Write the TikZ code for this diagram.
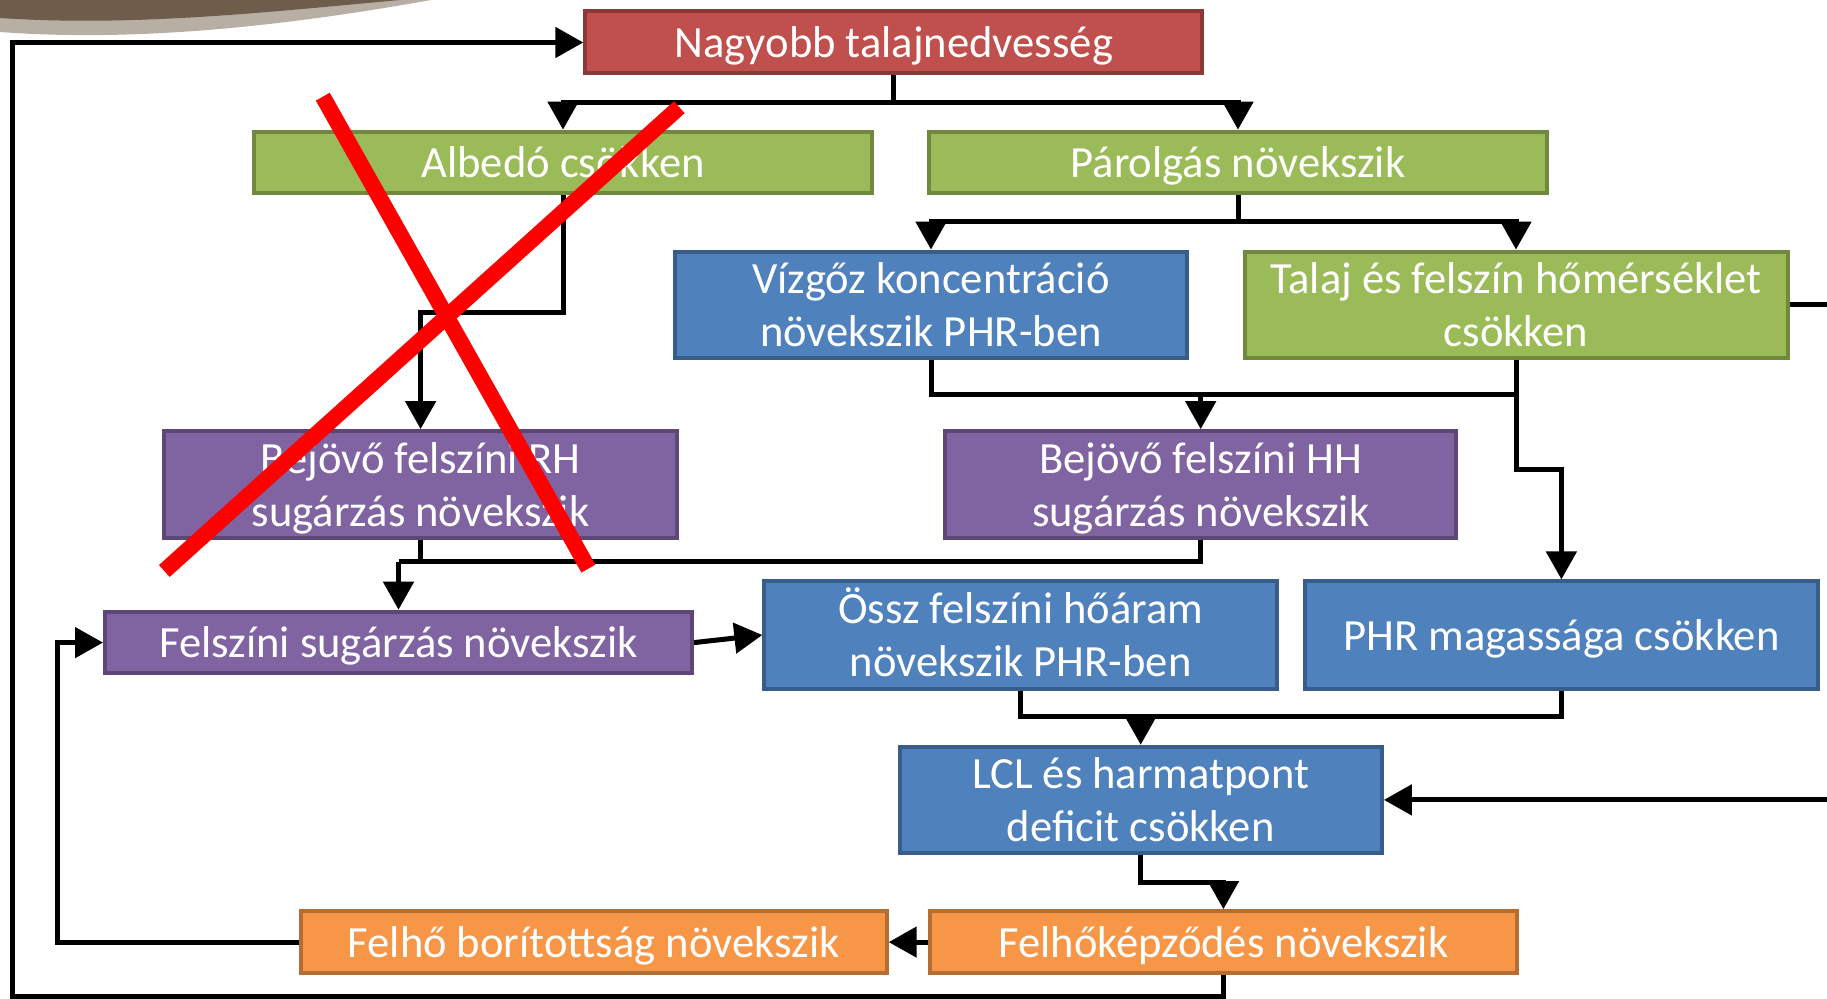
\documentclass[tikz,border=0pt]{standalone}
\usepackage{fontspec}
\setmainfont{Carlito}
\usetikzlibrary{arrows.meta}
\definecolor{cred}{HTML}{C0504D}
\definecolor{credd}{HTML}{8C3836}
\definecolor{cgreen}{HTML}{9BBB59}
\definecolor{cgreend}{HTML}{71893F}
\definecolor{cblue}{HTML}{4F81BD}
\definecolor{cblued}{HTML}{385D8A}
\definecolor{cpurp}{HTML}{8064A2}
\definecolor{cpurpd}{HTML}{5C4776}
\definecolor{corange}{HTML}{F79646}
\definecolor{coranged}{HTML}{B66D31}
\definecolor{swdark}{HTML}{6E5D4B}
\definecolor{swlight}{HTML}{B8AFA4}
\newcommand{\pptstrut}{\rule[-0.25em]{0pt}{1.18em}}
\begin{document}
\begin{tikzpicture}[x=0.5pt,y=-0.5pt,
  box/.style={draw, line width=2pt, text=white, align=center, inner sep=0pt,
    font=\fontsize{22.3}{26.8}\selectfont,
    execute at begin node=\pptstrut, execute at end node=\pptstrut},
  redbox/.style={box, fill=cred, draw=credd},
  greenbox/.style={box, fill=cgreen, draw=cgreend},
  bluebox/.style={box, fill=cblue, draw=cblued},
  purpbox/.style={box, fill=cpurp, draw=cpurpd},
  orbox/.style={box, fill=corange, draw=coranged},
  conn/.style={line width=2.5pt, black},
  arr/.style={conn, -{Triangle[length=14pt,width=15pt]}},
  cross/.style={line width=8pt, red}]
\useasboundingbox (0,0) rectangle (1827,999);
% decorative swoosh
\fill[swlight] (0,0) -- (0,32) .. controls (134,42) and (280,27) .. (431,0) -- cycle;
\fill[swdark] (0,0) -- (0,18) .. controls (134,27) and (268,12) .. (400,0) -- cycle;
% nodes
\node[redbox, minimum width=617pt/2, minimum height=62pt/2] (R) at (893.8,42.5) {Nagyobb talajnedvesség};
\node[greenbox, minimum width=617.6pt/2, minimum height=61.7pt/2] (A) at (563,162.5) {Albedó csökken};
\node[greenbox, minimum width=618.7pt/2, minimum height=61.7pt/2] (P) at (1238,162.5) {Párolgás növekszik};
\node[bluebox, minimum width=512.7pt/2, minimum height=106pt/2] (V) at (931,304.7) {\pptstrut Vízgőz koncentráció\\növekszik PHR-ben};
\node[greenbox, minimum width=543pt/2, minimum height=106pt/2] (T) at (1516,304.7) {\pptstrut Talaj és felszín hőmérséklet\\csökken};
\node[purpbox, minimum width=512.7pt/2, minimum height=107.2pt/2] (RH) at (420.6,484.7) {\pptstrut Bejövő felszíni RH\\sugárzás növekszik};
\node[purpbox, minimum width=511.5pt/2, minimum height=107.2pt/2] (HH) at (1200.7,484.7) {\pptstrut Bejövő felszíni HH\\sugárzás növekszik};
\node[purpbox, minimum width=587pt/2, minimum height=61.8pt/2] (FS) at (398.5,642.6) {Felszíni sugárzás növekszik};
\node[bluebox, minimum width=512.7pt/2, minimum height=107.2pt/2] (O) at (1020.7,635) {\pptstrut Össz felszíni hőáram\\növekszik PHR-ben};
\node[bluebox, minimum width=512.7pt/2, minimum height=107.2pt/2] (PHR) at (1561.4,635) {PHR magassága csökken};
\node[bluebox, minimum width=482.4pt/2, minimum height=106pt/2] (L) at (1140.7,799.9) {\pptstrut LCL és harmatpont\\deficit csökken};
\node[orbox, minimum width=586pt/2, minimum height=61.8pt/2] (FB) at (593.7,942.1) {Felhő borítottság növekszik};
\node[orbox, minimum width=587.2pt/2, minimum height=61.8pt/2] (FK) at (1223.4,942.1) {Felhőképződés növekszik};
% junction coordinates
\coordinate (j1) at (893.8,102.5);
\coordinate (j2) at (563,312.3);
\coordinate (j3) at (1238,221.4);
\coordinate (j4) at (1200.7,395);
\coordinate (j5) at (1516,469.6);
\coordinate (j6) at (398.5,561.6);
\coordinate (j7) at (1140.7,716.6);
\coordinate (j8) at (1140.7,882);
\coordinate (eT) at (1827,304.7);
\coordinate (eL) at (1827,799.9);
\coordinate (c1) at (57,942.1);
\coordinate (c3) at (12.8,996);
% connectors
\draw[conn] (R.south) -- (j1);
\draw[arr] (j1) -| (A.north);
\draw[arr] (j1) -| (P.north);
\draw[arr] (A.south) -- (j2) -| (RH.north);
\draw[conn] (P.south) -- (j3);
\draw[arr] (j3) -| (V.north);
\draw[arr] (j3) -| (T.north);
\draw[conn] (V.south) |- (j4);
\draw[conn] (T.south) |- (j4);
\draw[arr] (j4) -- (HH.north);
\draw[arr] (T.south) -- (j5) -| (PHR.north);
\draw[conn] (T.east) -- (eT);
\draw[arr] (eL) -- (L.east);
\draw[conn] (RH.south) |- (j6);
\draw[conn] (HH.south) |- (j6);
\draw[arr] (j6) -- (FS.north);
\draw[arr] (FS.east) -- (O.west);
\draw[conn] (O.south) |- (j7);
\draw[conn] (PHR.south) |- (j7);
\draw[arr] (j7) -- (L.north);
\draw[arr] (L.south) -- (j8) -| (FK.north);
\draw[arr] (FK.west) -- (FB.east);
\draw[arr] (FB.west) -- (c1) |- (FS.west);
\draw[arr] (FK.south) |- (c3) |- (R.west);
% red cross
\draw[cross] (322.8,96.7) -- (588.4,568.6);
\draw[cross] (679.3,107.2) -- (164.3,571);
\end{tikzpicture}
\end{document}
